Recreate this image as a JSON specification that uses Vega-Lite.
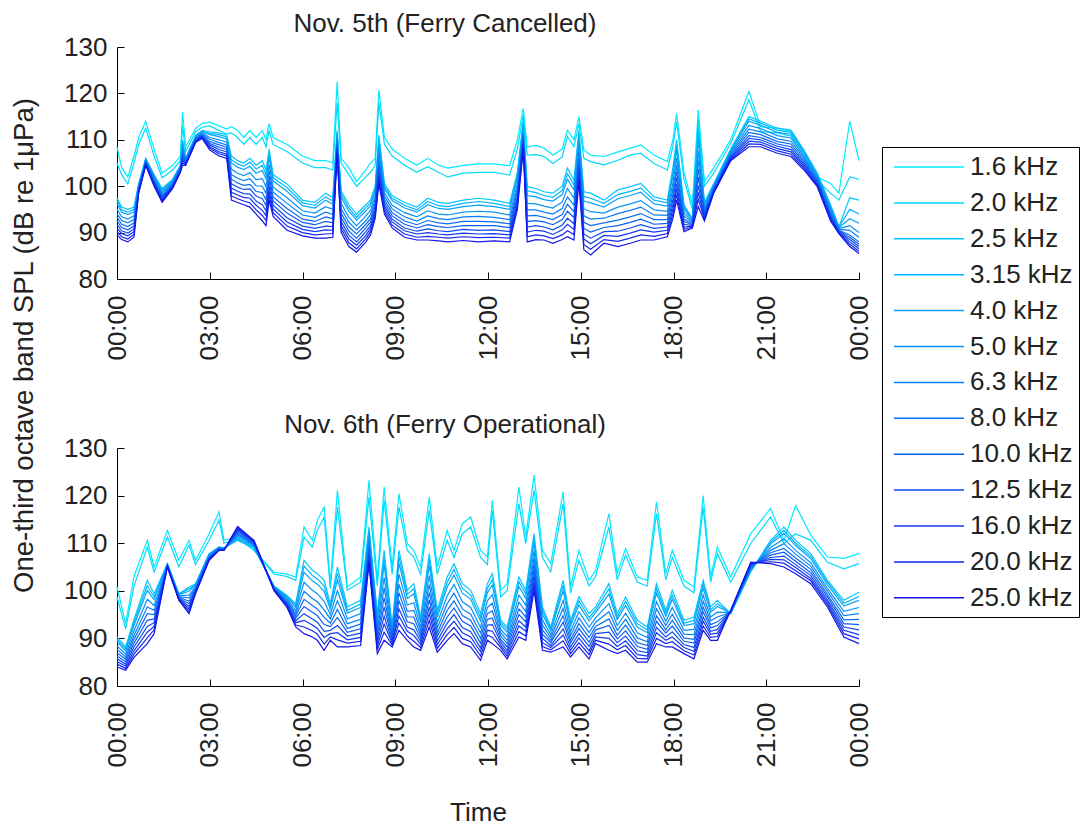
{
  "$schema": "https://vega.github.io/schema/vega-lite/v6.json",
  "background": "white",
  "padding": {"left": 9, "top": 11, "right": 2, "bottom": 2},
  "bounds": "flush",
  "spacing": 169,
  "config": {
    "font": "Liberation Sans",
    "view": {"stroke": null},
    "axis": {
      "grid": false,
      "domainColor": "#000",
      "tickColor": "#000",
      "tickSize": -7,
      "labelColor": "#222",
      "titleColor": "#222",
      "labelFont": "Liberation Sans",
      "titleFont": "Liberation Sans",
      "labelFontSize": 26,
      "titleFontSize": 26,
      "titleFontWeight": "normal",
      "labelOverlap": false,
      "labelFlush": false
    },
    "title": {"font": "Liberation Sans", "fontSize": 26, "fontWeight": "normal", "color": "#222"}
  },
  "datasets": {
    "bands": [
      {"k": "a", "band": "1.6 kHz"}, {"k": "b", "band": "2.0 kHz"}, {"k": "c", "band": "2.5 kHz"},
      {"k": "d", "band": "3.15 kHz"}, {"k": "e", "band": "4.0 kHz"}, {"k": "f", "band": "5.0 kHz"},
      {"k": "g", "band": "6.3 kHz"}, {"k": "h", "band": "8.0 kHz"}, {"k": "i", "band": "10.0 kHz"},
      {"k": "j", "band": "12.5 kHz"}, {"k": "k", "band": "16.0 kHz"}, {"k": "l", "band": "20.0 kHz"},
      {"k": "m", "band": "25.0 kHz"}
    ],
    "nov5": [
      {"t":0,"a":108.5,"b":105,"c":97.5,"d":96.9,"e":96.2,"f":95.1,"g":94.1,"h":93.3,"i":92.5,"j":91.7,"k":90.9,"l":90.2,"m":89.5},
      {"t":0.15,"a":104,"b":102.5,"c":95.5,"d":94.9,"e":94.4,"f":93.4,"g":92.6,"h":91.8,"i":91.1,"j":90.4,"k":89.8,"l":89.1,"m":88.5},
      {"t":0.35,"a":102,"b":100.5,"c":95,"d":94.4,"e":93.9,"f":92.9,"g":92.1,"h":91.3,"i":90.6,"j":89.9,"k":89.3,"l":88.6,"m":88},
      {"t":0.55,"a":106.5,"b":105,"c":95.5,"d":95,"e":94.5,"f":93.6,"g":92.8,"h":92.1,"i":91.4,"j":90.8,"k":90.2,"l":89.6,"m":89},
      {"t":0.7,"a":110.5,"b":109,"c":100.5,"d":100.3,"e":100.2,"f":99.9,"g":99.7,"h":99.4,"i":99.2,"j":99,"k":98.9,"l":98.7,"m":98.5},
      {"t":0.93,"a":114,"b":112.5,"c":106,"d":105.9,"e":105.8,"f":105.6,"g":105.4,"h":105.2,"i":105.1,"j":104.9,"k":104.8,"l":104.6,"m":104.5},
      {"t":1.2,"a":108,"b":106.5,"c":102.5,"d":102.3,"e":102.1,"f":101.8,"g":101.5,"h":101.2,"i":100.9,"j":100.7,"k":100.5,"l":100.2,"m":100},
      {"t":1.46,"a":102.8,"b":101.8,"c":99.5,"d":99.3,"e":99,"f":98.6,"g":98.2,"h":97.9,"i":97.6,"j":97.3,"k":97,"l":96.8,"m":96.5},
      {"t":1.8,"a":104.5,"b":103.5,"c":101.5,"d":101.3,"e":101.2,"f":100.9,"g":100.7,"h":100.4,"i":100.2,"j":100,"k":99.9,"l":99.7,"m":99.5},
      {"t":2.05,"a":106.5,"b":105.5,"c":104.5,"d":104.4,"e":104.3,"f":104.1,"g":103.9,"h":103.7,"i":103.6,"j":103.4,"k":103.3,"l":103.1,"m":103},
      {"t":2.12,"a":116,"b":113,"c":110,"d":109.6,"e":109.1,"f":108.4,"g":107.7,"h":107.1,"i":106.5,"j":106,"k":105.5,"l":105,"m":104.5},
      {"t":2.22,"a":108.5,"b":107.5,"c":106,"d":105.9,"e":105.8,"f":105.6,"g":105.4,"h":105.2,"i":105.1,"j":104.9,"k":104.8,"l":104.6,"m":104.5},
      {"t":2.55,"a":112.5,"b":111.8,"c":111,"d":110.9,"e":110.8,"f":110.6,"g":110.4,"h":110.2,"i":110.1,"j":109.9,"k":109.8,"l":109.6,"m":109.5},
      {"t":2.75,"a":113.5,"b":112.7,"c":112,"d":111.9,"e":111.7,"f":111.5,"g":111.3,"h":111.1,"i":110.9,"j":110.8,"k":110.6,"l":110.5,"m":110.3},
      {"t":3,"a":113.8,"b":113,"c":111.7,"d":111.4,"e":111.1,"f":110.5,"g":110.1,"h":109.6,"i":109.2,"j":108.9,"k":108.5,"l":108.2,"m":107.8},
      {"t":3.3,"a":113,"b":112,"c":111.5,"d":111.1,"e":110.7,"f":110,"g":109.4,"h":108.9,"i":108.4,"j":107.9,"k":107.4,"l":107,"m":106.5},
      {"t":3.55,"a":112.3,"b":111.3,"c":111,"d":110.6,"e":110.2,"f":109.5,"g":108.9,"h":108.4,"i":107.9,"j":107.4,"k":106.9,"l":106.5,"m":106},
      {"t":3.7,"a":112.8,"b":111.5,"c":106.5,"d":105.7,"e":105,"f":103.7,"g":102.5,"h":101.5,"i":100.5,"j":99.6,"k":98.7,"l":97.9,"m":97},
      {"t":3.9,"a":112,"b":110.5,"c":105.5,"d":104.8,"e":104.1,"f":102.8,"g":101.7,"h":100.7,"i":99.8,"j":98.9,"k":98.1,"l":97.3,"m":96.5},
      {"t":4.1,"a":110.5,"b":109,"c":105,"d":104.3,"e":103.6,"f":102.3,"g":101.2,"h":100.2,"i":99.3,"j":98.4,"k":97.6,"l":96.8,"m":96},
      {"t":4.3,"a":112,"b":110.5,"c":106,"d":105.2,"e":104.3,"f":102.9,"g":101.6,"h":100.4,"i":99.4,"j":98.3,"k":97.4,"l":96.4,"m":95.5},
      {"t":4.5,"a":110.5,"b":109,"c":104.5,"d":103.7,"e":102.8,"f":101.4,"g":100.1,"h":98.9,"i":97.9,"j":96.8,"k":95.9,"l":94.9,"m":94},
      {"t":4.7,"a":112,"b":110.5,"c":105.5,"d":104.5,"e":103.4,"f":101.6,"g":100,"h":98.6,"i":97.3,"j":96,"k":94.8,"l":93.7,"m":92.5},
      {"t":4.82,"a":110,"b":108.5,"c":103.5,"d":102.5,"e":101.6,"f":99.9,"g":98.5,"h":97.1,"i":95.9,"j":94.7,"k":93.7,"l":92.6,"m":91.5},
      {"t":4.92,"a":113.5,"b":112,"c":108,"d":107.1,"e":106.2,"f":104.7,"g":103.4,"h":102.2,"i":101.1,"j":100,"k":99,"l":98,"m":97},
      {"t":5.05,"a":110.5,"b":109,"c":102.5,"d":101.8,"e":101.1,"f":99.8,"g":98.7,"h":97.7,"i":96.8,"j":95.9,"k":95.1,"l":94.3,"m":93.5},
      {"t":5.5,"a":109,"b":107.5,"c":100.5,"d":99.7,"e":98.9,"f":97.5,"g":96.3,"h":95.2,"i":94.2,"j":93.2,"k":92.3,"l":91.4,"m":90.5},
      {"t":6,"a":106.5,"b":105,"c":97,"d":96.4,"e":95.8,"f":94.7,"g":93.8,"h":92.9,"i":92.2,"j":91.4,"k":90.7,"l":90,"m":89.3},
      {"t":6.4,"a":105.5,"b":104,"c":96.5,"d":95.9,"e":95.3,"f":94.2,"g":93.3,"h":92.4,"i":91.7,"j":90.9,"k":90.2,"l":89.5,"m":88.8},
      {"t":6.75,"a":105.5,"b":104,"c":98.5,"d":97.7,"e":97,"f":95.6,"g":94.4,"h":93.4,"i":92.4,"j":91.4,"k":90.6,"l":89.7,"m":88.8},
      {"t":6.98,"a":105,"b":103.5,"c":97.5,"d":96.8,"e":96.1,"f":95,"g":93.9,"h":93,"i":92.1,"j":91.3,"k":90.5,"l":89.8,"m":89},
      {"t":7.12,"a":122.5,"b":118,"c":112,"d":111.6,"e":111.2,"f":110.5,"g":109.9,"h":109.4,"i":108.9,"j":108.4,"k":107.9,"l":107.5,"m":107},
      {"t":7.25,"a":106,"b":105,"c":99,"d":98.3,"e":97.6,"f":96.3,"g":95.2,"h":94.2,"i":93.3,"j":92.4,"k":91.6,"l":90.8,"m":90},
      {"t":7.5,"a":104,"b":102.5,"c":96,"d":95.3,"e":94.6,"f":93.3,"g":92.2,"h":91.2,"i":90.3,"j":89.4,"k":88.6,"l":87.8,"m":87},
      {"t":7.75,"a":101,"b":100,"c":94,"d":93.3,"e":92.7,"f":91.5,"g":90.6,"h":89.7,"i":88.8,"j":88,"k":87.3,"l":86.5,"m":85.8},
      {"t":8.05,"a":103.5,"b":102,"c":96,"d":95.4,"e":94.7,"f":93.6,"g":92.6,"h":91.8,"i":91,"j":90.2,"k":89.4,"l":88.7,"m":88},
      {"t":8.2,"a":105,"b":103,"c":97,"d":96.4,"e":95.8,"f":94.8,"g":93.9,"h":93,"i":92.3,"j":91.5,"k":90.9,"l":90.2,"m":89.5},
      {"t":8.35,"a":106,"b":104.5,"c":100,"d":99.4,"e":98.9,"f":97.9,"g":97.1,"h":96.3,"i":95.6,"j":94.9,"k":94.3,"l":93.6,"m":93},
      {"t":8.47,"a":120.7,"b":118,"c":111,"d":110.2,"e":109.3,"f":107.9,"g":106.6,"h":105.4,"i":104.4,"j":103.3,"k":102.4,"l":101.4,"m":100.5},
      {"t":8.65,"a":110.5,"b":109,"c":100.5,"d":100,"e":99.5,"f":98.6,"g":97.8,"h":97.1,"i":96.4,"j":95.8,"k":95.2,"l":94.6,"m":94},
      {"t":8.9,"a":108,"b":106.5,"c":98,"d":97.4,"e":96.9,"f":95.9,"g":95.1,"h":94.3,"i":93.6,"j":92.9,"k":92.3,"l":91.6,"m":91},
      {"t":9.3,"a":106,"b":104.5,"c":96.5,"d":95.9,"e":95.3,"f":94.3,"g":93.4,"h":92.5,"i":91.8,"j":91,"k":90.4,"l":89.7,"m":89},
      {"t":9.7,"a":104.5,"b":103,"c":95.5,"d":94.9,"e":94.4,"f":93.4,"g":92.5,"h":91.7,"i":91,"j":90.3,"k":89.7,"l":89,"m":88.4},
      {"t":10.05,"a":106,"b":104.2,"c":97.4,"d":96.7,"e":96,"f":94.7,"g":93.6,"h":92.6,"i":91.7,"j":90.8,"k":90,"l":89.2,"m":88.4},
      {"t":10.4,"a":104.5,"b":103,"c":96.5,"d":95.8,"e":95.2,"f":94,"g":93,"h":92.1,"i":91.3,"j":90.4,"k":89.7,"l":89,"m":88.2},
      {"t":10.7,"a":103.9,"b":102,"c":96.3,"d":95.6,"e":95,"f":93.8,"g":92.8,"h":91.9,"i":91.1,"j":90.2,"k":89.5,"l":88.8,"m":88},
      {"t":11.2,"a":104.5,"b":102.8,"c":97,"d":96.3,"e":95.6,"f":94.4,"g":93.4,"h":92.4,"i":91.5,"j":90.7,"k":89.9,"l":89.1,"m":88.3},
      {"t":11.7,"a":104.8,"b":103,"c":97.4,"d":96.7,"e":95.9,"f":94.6,"g":93.5,"h":92.4,"i":91.5,"j":90.5,"k":89.7,"l":88.9,"m":88},
      {"t":12.2,"a":104.8,"b":103,"c":97,"d":96.3,"e":95.6,"f":94.4,"g":93.3,"h":92.3,"i":91.5,"j":90.6,"k":89.8,"l":89,"m":88.2},
      {"t":12.7,"a":104.4,"b":102.4,"c":96.3,"d":95.6,"e":95,"f":93.8,"g":92.8,"h":91.9,"i":91.1,"j":90.2,"k":89.5,"l":88.8,"m":88},
      {"t":12.95,"a":110,"b":108,"c":103,"d":102.4,"e":101.7,"f":100.6,"g":99.6,"h":98.8,"i":98,"j":97.2,"k":96.4,"l":95.7,"m":95},
      {"t":13.14,"a":116.8,"b":115.3,"c":114,"d":113.5,"e":113,"f":112.2,"g":111.5,"h":110.8,"i":110.2,"j":109.6,"k":109.1,"l":108.5,"m":108},
      {"t":13.27,"a":108.5,"b":106.7,"c":99.9,"d":99,"e":98,"f":96.3,"g":94.9,"h":93.6,"i":92.4,"j":91.2,"k":90.1,"l":89.1,"m":88},
      {"t":13.55,"a":108.8,"b":106.8,"c":99.5,"d":98.6,"e":97.7,"f":96.2,"g":94.9,"h":93.7,"i":92.6,"j":91.5,"k":90.5,"l":89.5,"m":88.5},
      {"t":13.81,"a":108.2,"b":106.4,"c":98.8,"d":98,"e":97.1,"f":95.7,"g":94.4,"h":93.3,"i":92.3,"j":91.2,"k":90.3,"l":89.3,"m":88.4},
      {"t":14.1,"a":106.7,"b":104.9,"c":98.5,"d":97.6,"e":96.8,"f":95.3,"g":94,"h":92.8,"i":91.7,"j":90.6,"k":89.6,"l":88.7,"m":87.7},
      {"t":14.4,"a":108,"b":106.3,"c":100,"d":99.1,"e":98.2,"f":96.6,"g":95.2,"h":93.9,"i":92.8,"j":91.6,"k":90.6,"l":89.5,"m":88.5},
      {"t":14.57,"a":112.1,"b":110.7,"c":103.9,"d":102.7,"e":101.5,"f":99.5,"g":97.7,"h":96.1,"i":94.6,"j":93.1,"k":91.8,"l":90.4,"m":89.1},
      {"t":14.78,"a":110,"b":108.5,"c":101.3,"d":100.3,"e":99.2,"f":97.4,"g":95.9,"h":94.5,"i":93.2,"j":91.9,"k":90.7,"l":89.6,"m":88.4},
      {"t":14.94,"a":115,"b":113.5,"c":112,"d":111.1,"e":110.2,"f":108.7,"g":107.4,"h":106.2,"i":105.1,"j":104,"k":103,"l":102,"m":101},
      {"t":15.1,"a":107.8,"b":106,"c":98.8,"d":97.8,"e":96.8,"f":95.1,"g":93.6,"h":92.2,"i":90.9,"j":89.7,"k":88.6,"l":87.4,"m":86.3},
      {"t":15.32,"a":106.7,"b":105.3,"c":98.5,"d":97.4,"e":96.4,"f":94.5,"g":92.9,"h":91.5,"i":90.1,"j":88.8,"k":87.6,"l":86.4,"m":85.2},
      {"t":15.75,"a":106.4,"b":104.6,"c":97,"d":96.3,"e":95.5,"f":94.2,"g":93.1,"h":92.1,"i":91.1,"j":90.2,"k":89.4,"l":88.5,"m":87.7},
      {"t":16.2,"a":107.4,"b":105.6,"c":99.2,"d":98.2,"e":97.3,"f":95.5,"g":94.1,"h":92.7,"i":91.5,"j":90.3,"k":89.2,"l":88.1,"m":87},
      {"t":16.6,"a":108.2,"b":106.7,"c":99.9,"d":98.9,"e":98,"f":96.2,"g":94.8,"h":93.4,"i":92.2,"j":91,"k":89.9,"l":88.8,"m":87.7},
      {"t":16.94,"a":108.9,"b":107.1,"c":100.6,"d":99.6,"e":98.7,"f":96.9,"g":95.5,"h":94.1,"i":92.9,"j":91.7,"k":90.6,"l":89.5,"m":88.4},
      {"t":17.37,"a":106.7,"b":104.9,"c":97.7,"d":97,"e":96.2,"f":94.9,"g":93.8,"h":92.8,"i":91.8,"j":90.9,"k":90.1,"l":89.2,"m":88.4},
      {"t":17.8,"a":105.3,"b":103.5,"c":97,"d":96.4,"e":95.7,"f":94.6,"g":93.7,"h":92.8,"i":92,"j":91.2,"k":90.5,"l":89.8,"m":89.1},
      {"t":17.98,"a":110,"b":108.5,"c":104,"d":103.1,"e":102.2,"f":100.7,"g":99.4,"h":98.2,"i":97.1,"j":96,"k":95,"l":94,"m":93},
      {"t":18.1,"a":115.7,"b":113.9,"c":110,"d":109,"e":107.9,"f":106.1,"g":104.5,"h":103.1,"i":101.8,"j":100.5,"k":99.3,"l":98.2,"m":97},
      {"t":18.34,"a":103,"b":101.5,"c":96,"d":95.5,"e":95.1,"f":94.3,"g":93.6,"h":92.9,"i":92.4,"j":91.8,"k":91.2,"l":90.7,"m":90.2},
      {"t":18.61,"a":96,"b":95,"c":93,"d":92.8,"e":92.7,"f":92.4,"g":92.2,"h":91.9,"i":91.7,"j":91.5,"k":91.4,"l":91.2,"m":91},
      {"t":18.8,"a":116.4,"b":114.3,"c":112.8,"d":111.4,"e":110.1,"f":107.6,"g":105.6,"h":103.7,"i":102,"j":100.2,"k":98.7,"l":97.2,"m":95.6},
      {"t":19,"a":101,"b":100,"c":96.5,"d":96.2,"e":95.9,"f":95.3,"g":94.8,"h":94.4,"i":94,"j":93.6,"k":93.2,"l":92.9,"m":92.5},
      {"t":19.3,"a":103.9,"b":102.8,"c":100.5,"d":100.3,"e":100.2,"f":99.9,"g":99.7,"h":99.4,"i":99.2,"j":99,"k":98.9,"l":98.7,"m":98.5},
      {"t":19.85,"a":110,"b":109.2,"c":108,"d":107.8,"e":107.6,"f":107.3,"g":107,"h":106.7,"i":106.4,"j":106.2,"k":106,"l":105.7,"m":105.5},
      {"t":20.44,"a":120.4,"b":118.6,"c":115,"d":114.5,"e":114,"f":113.1,"g":112.3,"h":111.6,"i":110.9,"j":110.3,"k":109.7,"l":109.1,"m":108.5},
      {"t":20.82,"a":112.8,"b":111.8,"c":114,"d":113.6,"e":113.1,"f":112.4,"g":111.7,"h":111.1,"i":110.5,"j":110,"k":109.5,"l":109,"m":108.5},
      {"t":21.36,"a":112.5,"b":111.5,"c":112.5,"d":112.1,"e":111.6,"f":110.9,"g":110.2,"h":109.6,"i":109.1,"j":108.6,"k":108.1,"l":107.6,"m":107.1},
      {"t":21.8,"a":111.8,"b":110.8,"c":112.1,"d":111.6,"e":111.2,"f":110.4,"g":109.7,"h":109.1,"i":108.5,"j":107.9,"k":107.4,"l":106.9,"m":106.4},
      {"t":22.22,"a":107.1,"b":106.5,"c":107.8,"d":107.5,"e":107.1,"f":106.5,"g":106,"h":105.5,"i":105.1,"j":104.7,"k":104.3,"l":103.9,"m":103.5},
      {"t":22.65,"a":102,"b":101.3,"c":102.8,"d":102.6,"e":102.3,"f":101.9,"g":101.6,"h":101.3,"i":101,"j":100.7,"k":100.4,"l":100.2,"m":99.9},
      {"t":23.08,"a":100.6,"b":98.5,"c":96,"d":95.7,"e":95.4,"f":95,"g":94.5,"h":94.1,"i":93.8,"j":93.4,"k":93.1,"l":92.8,"m":92.5},
      {"t":23.35,"a":98.5,"b":97,"c":91.3,"d":91.2,"e":91.1,"f":90.9,"g":90.7,"h":90.5,"i":90.4,"j":90.2,"k":90.1,"l":89.9,"m":89.8},
      {"t":23.7,"a":114,"b":102,"c":97.5,"d":95,"e":93,"f":91.5,"g":90.5,"h":89.5,"i":89,"j":88.5,"k":88,"l":87.5,"m":87},
      {"t":24,"a":105.5,"b":101.5,"c":97,"d":94,"e":92,"f":90,"g":89,"h":88,"i":87.5,"j":87,"k":86.5,"l":86,"m":85.5}
    ],
    "nov6": [
      {"t":0,"a":100.8,"b":98.7,"c":90.3,"d":89.8,"e":89.3,"f":88.4,"g":87.7,"h":87,"i":86.3,"j":85.7,"k":85.1,"l":84.6,"m":84},
      {"t":0.28,"a":93.1,"b":92,"c":88.2,"d":87.8,"e":87.4,"f":86.7,"g":86.1,"h":85.6,"i":85.1,"j":84.6,"k":84.2,"l":83.7,"m":83.3},
      {"t":0.55,"a":103,"b":101,"c":94,"d":93.4,"e":92.7,"f":91.6,"g":90.6,"h":89.8,"i":89,"j":88.2,"k":87.4,"l":86.7,"m":86},
      {"t":0.98,"a":110.6,"b":109.2,"c":102.2,"d":101.1,"e":100.1,"f":98.2,"g":96.6,"h":95.2,"i":93.8,"j":92.5,"k":91.3,"l":90.1,"m":88.9},
      {"t":1.2,"a":105,"b":103.9,"c":99.4,"d":98.7,"e":98.1,"f":96.9,"g":95.9,"h":95,"i":94.1,"j":93.3,"k":92.5,"l":91.8,"m":91},
      {"t":1.63,"a":112.7,"b":111.3,"c":105.7,"d":105.6,"e":105.6,"f":105.5,"g":105.4,"h":105.3,"i":105.3,"j":105.2,"k":105.1,"l":105.1,"m":105},
      {"t":2,"a":106.4,"b":105,"c":99.4,"d":99.3,"e":99.2,"f":99,"g":98.8,"h":98.7,"i":98.5,"j":98.4,"k":98.3,"l":98.1,"m":98},
      {"t":2.33,"a":110.6,"b":109.6,"c":100.8,"d":100.4,"e":99.9,"f":99.1,"g":98.5,"h":97.8,"i":97.3,"j":96.7,"k":96.2,"l":95.7,"m":95.2},
      {"t":2.54,"a":106.4,"b":105.5,"c":101.5,"d":101.3,"e":101.2,"f":100.9,"g":100.6,"h":100.4,"i":100.2,"j":100,"k":99.8,"l":99.6,"m":99.4},
      {"t":2.98,"a":112,"b":110.6,"c":107.8,"d":107.7,"e":107.6,"f":107.4,"g":107.2,"h":107.1,"i":106.9,"j":106.8,"k":106.7,"l":106.5,"m":106.4},
      {"t":3.3,"a":116.6,"b":114.8,"c":109.2,"d":109.1,"e":109.1,"f":109,"g":108.9,"h":108.8,"i":108.8,"j":108.7,"k":108.6,"l":108.6,"m":108.5},
      {"t":3.46,"a":110.6,"b":110,"c":109,"d":109,"e":108.9,"f":108.9,"g":108.8,"h":108.7,"i":108.7,"j":108.6,"k":108.6,"l":108.5,"m":108.5},
      {"t":3.9,"a":111.3,"b":111,"c":110.6,"d":110.8,"e":111.1,"f":111.5,"g":111.8,"h":112.1,"i":112.4,"j":112.7,"k":113,"l":113.2,"m":113.5},
      {"t":4.43,"a":108.5,"b":108.5,"c":109,"d":109.1,"e":109.3,"f":109.5,"g":109.7,"h":109.8,"i":110,"j":110.2,"k":110.3,"l":110.5,"m":110.6},
      {"t":5.08,"a":103.9,"b":103.5,"c":101,"d":100.9,"e":100.8,"f":100.7,"g":100.6,"h":100.5,"i":100.4,"j":100.3,"k":100.2,"l":100.1,"m":100},
      {"t":5.5,"a":103.5,"b":103,"c":99,"d":98.8,"e":98.6,"f":98.3,"g":98,"h":97.7,"i":97.4,"j":97.2,"k":97,"l":96.7,"m":96.5},
      {"t":5.78,"a":102.9,"b":102.2,"c":97.3,"d":96.9,"e":96.5,"f":95.8,"g":95.2,"h":94.7,"i":94.2,"j":93.7,"k":93.3,"l":92.8,"m":92.4},
      {"t":6.05,"a":113.4,"b":111.3,"c":106.4,"d":105.2,"e":103.9,"f":101.8,"g":99.9,"h":98.2,"i":96.7,"j":95.2,"k":93.8,"l":92.4,"m":91},
      {"t":6.32,"a":110.6,"b":109.2,"c":104.3,"d":103.2,"e":102.1,"f":100.1,"g":98.4,"h":96.9,"i":95.5,"j":94.1,"k":92.8,"l":91.6,"m":90.3},
      {"t":6.48,"a":114.8,"b":112.7,"c":103.6,"d":102.5,"e":101.4,"f":99.4,"g":97.7,"h":96.2,"i":94.8,"j":93.4,"k":92.1,"l":90.9,"m":89.6},
      {"t":6.7,"a":117.6,"b":115.5,"c":102.2,"d":101,"e":99.9,"f":97.8,"g":96,"h":94.4,"i":92.9,"j":91.5,"k":90.2,"l":88.8,"m":87.5},
      {"t":6.9,"a":101.5,"b":100.5,"c":97.3,"d":96.7,"e":96.1,"f":95,"g":94.1,"h":93.2,"i":92.5,"j":91.7,"k":91,"l":90.3,"m":89.6},
      {"t":7.13,"a":121.1,"b":117.6,"c":105,"d":103.7,"e":102.3,"f":100,"g":97.9,"h":96.1,"i":94.4,"j":92.7,"k":91.2,"l":89.7,"m":88.2},
      {"t":7.45,"a":100.8,"b":100.1,"c":96.6,"d":95.9,"e":95.3,"f":94.1,"g":93.1,"h":92.1,"i":91.3,"j":90.5,"k":89.7,"l":89,"m":88.2},
      {"t":7.88,"a":102.9,"b":101.8,"c":98,"d":97.2,"e":96.5,"f":95.2,"g":94,"h":93,"i":92,"j":91.1,"k":90.2,"l":89.4,"m":88.5},
      {"t":8.15,"a":123.2,"b":119.7,"c":113.4,"d":112.8,"e":112.2,"f":111.1,"g":110.2,"h":109.3,"i":108.6,"j":107.8,"k":107.1,"l":106.4,"m":105.7},
      {"t":8.42,"a":102.2,"b":101,"c":95.2,"d":94.5,"e":93.9,"f":92.7,"g":91.7,"h":90.7,"i":89.9,"j":89.1,"k":88.3,"l":87.6,"m":86.8},
      {"t":8.64,"a":121.8,"b":119,"c":108.5,"d":107,"e":105.5,"f":102.8,"g":100.6,"h":98.5,"i":96.6,"j":94.7,"k":93,"l":91.3,"m":89.6},
      {"t":8.9,"a":105,"b":103.5,"c":92.4,"d":92.1,"e":91.7,"f":91.1,"g":90.6,"h":90.2,"i":89.8,"j":89.3,"k":89,"l":88.6,"m":88.2},
      {"t":9.12,"a":120.4,"b":117.6,"c":108.5,"d":107.2,"e":105.8,"f":103.5,"g":101.4,"h":99.6,"i":97.9,"j":96.2,"k":94.7,"l":93.2,"m":91.7},
      {"t":9.39,"a":109.9,"b":108.5,"c":100.1,"d":99.3,"e":98.4,"f":97,"g":95.7,"h":94.5,"i":93.5,"j":92.4,"k":91.5,"l":90.5,"m":89.6},
      {"t":9.6,"a":108.5,"b":107.1,"c":101.5,"d":100.4,"e":99.4,"f":97.5,"g":95.9,"h":94.5,"i":93.1,"j":91.8,"k":90.6,"l":89.4,"m":88.2},
      {"t":9.82,"a":105,"b":103.5,"c":94.5,"d":93.9,"e":93.4,"f":92.4,"g":91.6,"h":90.8,"i":90.1,"j":89.4,"k":88.8,"l":88.1,"m":87.5},
      {"t":10.1,"a":119.7,"b":116.9,"c":107.8,"d":106.6,"e":105.3,"f":103.2,"g":101.3,"h":99.6,"i":98.1,"j":96.6,"k":95.2,"l":93.8,"m":92.4},
      {"t":10.36,"a":105,"b":103.5,"c":95.9,"d":95.2,"e":94.5,"f":93.3,"g":92.2,"h":91.2,"i":90.4,"j":89.5,"k":88.7,"l":87.9,"m":87.1},
      {"t":10.68,"a":112.7,"b":110.6,"c":102.9,"d":101.8,"e":100.8,"f":98.9,"g":97.3,"h":95.9,"i":94.5,"j":93.2,"k":92,"l":90.8,"m":89.6},
      {"t":10.9,"a":108.5,"b":107,"c":105.7,"d":104.5,"e":103.3,"f":101.3,"g":99.5,"h":97.9,"i":96.4,"j":95,"k":93.6,"l":92.3,"m":91},
      {"t":11.17,"a":114.1,"b":112,"c":101.5,"d":100.5,"e":99.5,"f":97.7,"g":96.2,"h":94.8,"i":93.6,"j":92.3,"k":91.2,"l":90,"m":88.9},
      {"t":11.44,"a":115.5,"b":113.4,"c":100.1,"d":99.1,"e":98.2,"f":96.5,"g":95.1,"h":93.8,"i":92.6,"j":91.4,"k":90.3,"l":89.3,"m":88.2},
      {"t":11.76,"a":108.5,"b":107,"c":95.2,"d":94.4,"e":93.6,"f":92.3,"g":91.1,"h":90,"i":89,"j":88,"k":87.2,"l":86.3,"m":85.4},
      {"t":11.98,"a":107.1,"b":105.5,"c":101.5,"d":100.5,"e":99.6,"f":97.9,"g":96.5,"h":95.2,"i":94,"j":92.8,"k":91.7,"l":90.7,"m":89.6},
      {"t":12.14,"a":119,"b":116.9,"c":103.6,"d":102.4,"e":101.2,"f":99.2,"g":97.4,"h":95.8,"i":94.3,"j":92.9,"k":91.5,"l":90.2,"m":88.9},
      {"t":12.41,"a":100.1,"b":98.7,"c":93.8,"d":93.3,"e":92.8,"f":91.9,"g":91.2,"h":90.5,"i":89.8,"j":89.2,"k":88.6,"l":88.1,"m":87.5},
      {"t":12.62,"a":101.5,"b":100,"c":92.4,"d":91.9,"e":91.3,"f":90.4,"g":89.6,"h":88.9,"i":88.2,"j":87.5,"k":86.9,"l":86.3,"m":85.7},
      {"t":13,"a":121.8,"b":118.3,"c":102.9,"d":101.9,"e":100.9,"f":99.1,"g":97.6,"h":96.2,"i":95,"j":93.7,"k":92.6,"l":91.4,"m":90.3},
      {"t":13.22,"a":111.3,"b":109.9,"c":100.1,"d":99.3,"e":98.4,"f":97,"g":95.7,"h":94.5,"i":93.5,"j":92.4,"k":91.5,"l":90.5,"m":89.6},
      {"t":13.49,"a":124.3,"b":121.1,"c":112,"d":111,"e":110.1,"f":108.4,"g":107,"h":105.7,"i":104.5,"j":103.3,"k":102.2,"l":101.2,"m":100.1},
      {"t":13.76,"a":108.5,"b":107,"c":96.6,"d":95.9,"e":95.1,"f":93.9,"g":92.8,"h":91.8,"i":90.9,"j":90,"k":89.1,"l":88.3,"m":87.5},
      {"t":14.03,"a":105.7,"b":104,"c":92.4,"d":92,"e":91.6,"f":90.8,"g":90.2,"h":89.6,"i":89.1,"j":88.5,"k":88.1,"l":87.6,"m":87.1},
      {"t":14.43,"a":120.8,"b":118.3,"c":102.2,"d":101.1,"e":100,"f":98,"g":96.3,"h":94.8,"i":93.4,"j":92,"k":90.7,"l":89.5,"m":88.2},
      {"t":14.67,"a":100.8,"b":99.5,"c":93.8,"d":93.2,"e":92.6,"f":91.5,"g":90.6,"h":89.7,"i":89,"j":88.2,"k":87.5,"l":86.8,"m":86.1},
      {"t":14.94,"a":108.5,"b":106.4,"c":98.7,"d":97.9,"e":97,"f":95.6,"g":94.3,"h":93.1,"i":92.1,"j":91,"k":90.1,"l":89.1,"m":88.2},
      {"t":15.27,"a":102.2,"b":101,"c":95.2,"d":94.4,"e":93.7,"f":92.4,"g":91.2,"h":90.2,"i":89.2,"j":88.3,"k":87.4,"l":86.6,"m":85.7},
      {"t":15.48,"a":104.3,"b":103,"c":96.6,"d":96,"e":95.4,"f":94.3,"g":93.4,"h":92.5,"i":91.8,"j":91,"k":90.3,"l":89.6,"m":88.9},
      {"t":15.91,"a":116.2,"b":113.4,"c":101.5,"d":100.4,"e":99.3,"f":97.3,"g":95.6,"h":94.1,"i":92.7,"j":91.3,"k":90,"l":88.8,"m":87.5},
      {"t":16.18,"a":103.6,"b":102.3,"c":95.2,"d":94.5,"e":93.9,"f":92.7,"g":91.7,"h":90.7,"i":89.9,"j":89.1,"k":88.3,"l":87.6,"m":86.8},
      {"t":16.45,"a":108.9,"b":107.5,"c":98.7,"d":97.8,"e":96.9,"f":95.3,"g":94,"h":92.8,"i":91.6,"j":90.5,"k":89.5,"l":88.5,"m":87.5},
      {"t":16.83,"a":102.9,"b":101.8,"c":93.8,"d":93.1,"e":92.4,"f":91.2,"g":90.1,"h":89.1,"i":88.3,"j":87.4,"k":86.6,"l":85.8,"m":85},
      {"t":17.15,"a":102.2,"b":101,"c":92.4,"d":91.8,"e":91.2,"f":90.2,"g":89.3,"h":88.5,"i":87.7,"j":87,"k":86.3,"l":85.7,"m":85},
      {"t":17.45,"a":118.7,"b":116.2,"c":101.5,"d":100.5,"e":99.5,"f":97.7,"g":96.2,"h":94.8,"i":93.6,"j":92.3,"k":91.2,"l":90,"m":88.9},
      {"t":17.75,"a":103.6,"b":102.3,"c":95.9,"d":95.3,"e":94.7,"f":93.6,"g":92.7,"h":91.8,"i":91.1,"j":90.3,"k":89.6,"l":88.9,"m":88.2},
      {"t":17.96,"a":108.5,"b":107,"c":100.1,"d":99.1,"e":98.2,"f":96.5,"g":95.1,"h":93.8,"i":92.6,"j":91.4,"k":90.3,"l":89.3,"m":88.2},
      {"t":18.34,"a":102.2,"b":101,"c":93.8,"d":93.2,"e":92.7,"f":91.7,"g":90.9,"h":90.1,"i":89.4,"j":88.7,"k":88.1,"l":87.4,"m":86.8},
      {"t":18.66,"a":100.8,"b":99.6,"c":94.5,"d":93.8,"e":93.1,"f":91.9,"g":90.8,"h":89.8,"i":89,"j":88.1,"k":87.3,"l":86.5,"m":85.7},
      {"t":18.96,"a":120,"b":117.6,"c":102.2,"d":101.4,"e":100.5,"f":99.1,"g":97.8,"h":96.6,"i":95.6,"j":94.5,"k":93.6,"l":92.6,"m":91.7},
      {"t":19.2,"a":102.9,"b":101.8,"c":96.6,"d":96,"e":95.5,"f":94.5,"g":93.7,"h":92.9,"i":92.2,"j":91.5,"k":90.9,"l":90.2,"m":89.6},
      {"t":19.42,"a":109.2,"b":107.8,"c":98,"d":97.3,"e":96.7,"f":95.5,"g":94.5,"h":93.5,"i":92.7,"j":91.9,"k":91.1,"l":90.4,"m":89.6},
      {"t":19.85,"a":102.9,"b":101.8,"c":95.2,"d":95.3,"e":95.3,"f":95.4,"g":95.5,"h":95.6,"i":95.6,"j":95.7,"k":95.8,"l":95.8,"m":95.9},
      {"t":20.5,"a":112,"b":110,"c":104,"d":104.2,"e":104.3,"f":104.6,"g":104.8,"h":105.1,"i":105.3,"j":105.5,"k":105.6,"l":105.8,"m":106},
      {"t":21.14,"a":117.3,"b":115.5,"c":110.6,"d":110.2,"e":109.8,"f":109.1,"g":108.5,"h":108,"i":107.5,"j":107,"k":106.6,"l":106.1,"m":105.7},
      {"t":21.57,"a":110.6,"b":110,"c":113.4,"d":112.7,"e":112.1,"f":110.9,"g":109.9,"h":108.9,"i":108.1,"j":107.3,"k":106.5,"l":105.8,"m":105},
      {"t":21.95,"a":117.9,"b":112,"c":110.6,"d":110,"e":109.5,"f":108.5,"g":107.7,"h":106.9,"i":106.2,"j":105.5,"k":104.9,"l":104.2,"m":103.6},
      {"t":22.44,"a":111.7,"b":110.6,"c":107.8,"d":107.3,"e":106.8,"f":105.9,"g":105.2,"h":104.5,"i":103.8,"j":103.2,"k":102.6,"l":102.1,"m":101.5},
      {"t":22.98,"a":107.1,"b":106,"c":102.2,"d":101.8,"e":101.3,"f":100.5,"g":99.9,"h":99.2,"i":98.7,"j":98.1,"k":97.6,"l":97.1,"m":96.6},
      {"t":23.51,"a":106.8,"b":104.6,"c":98,"d":97.4,"e":96.8,"f":95.7,"g":94.8,"h":93.9,"i":93.1,"j":92.4,"k":91.7,"l":91,"m":90.3},
      {"t":24,"a":107.8,"b":105.7,"c":99.7,"d":98.8,"e":98,"f":96.5,"g":95.2,"h":94,"i":92.9,"j":91.8,"k":90.8,"l":89.9,"m":88.9}
    ]
  },
  "vconcat": [
    {
      "width": 742,
      "height": 232,
      "title": {"text": "Nov. 5th (Ferry Cancelled)", "anchor": "middle", "frame": "group", "dx": -43, "offset": -24, "baseline": "alphabetic"},
      "data": {"name": "nov5"},
      "transform": [
        {"fold": ["a", "b", "c", "d", "e", "f", "g", "h", "i", "j", "k", "l", "m"], "as": ["k", "spl"]},
        {"lookup": "k", "from": {"data": {"name": "bands"}, "key": "k", "fields": ["band"]}}
      ],
      "mark": {"type": "line", "strokeWidth": 1.2},
      "encoding": {
        "x": {
          "field": "t", "type": "quantitative",
          "scale": {"domain": [0, 24], "nice": false, "zero": false},
          "axis": {
            "values": [0, 3, 6, 9, 12, 15, 18, 21, 24],
            "title": null,
            "labelAngle": 270, "labelAlign": "right", "labelBaseline": "middle",
            "labelPadding": 23,
            "labelExpr": "(datum.value % 24 < 10 ? '0' : '') + (datum.value % 24) + ':00'"
          }
        },
        "y": {
          "field": "spl", "type": "quantitative",
          "scale": {"domain": [80, 130], "nice": false, "zero": false},
          "axis": {
            "values": [80, 90, 100, 110, 120, 130],
            "labelPadding": 17,
            "title": "One-third octave band SPL (dB re 1μPa)",
            "titleFontSize": 27.5,
            "titleAngle": 270, "titleAlign": "center", "titleBaseline": "middle",
            "titleX": -93, "titleY": 298
          }
        },
        "color": {
          "field": "band", "type": "nominal",
          "scale": {
            "domain": ["1.6 kHz", "2.0 kHz", "2.5 kHz", "3.15 kHz", "4.0 kHz", "5.0 kHz", "6.3 kHz", "8.0 kHz", "10.0 kHz", "12.5 kHz", "16.0 kHz", "20.0 kHz", "25.0 kHz"],
            "range": ["#00EBFF", "#02D9FD", "#03C7FC", "#05B5FA", "#07A3F8", "#0892F7", "#0A80F5", "#0C6EF3", "#0D5CF2", "#0F4AF0", "#1138EE", "#1226ED", "#1414EB"]
          },
          "legend": {
            "orient": "none", "legendX": 765, "legendY": 100,
            "title": null,
            "symbolType": "M-0.62,0H4.77", "symbolSize": 676, "symbolStrokeWidth": 1.5,
            "labelFont": "Liberation Sans", "labelFontSize": 26, "labelColor": "#222",
            "labelOffset": 54, "labelLimit": 300,
            "rowPadding": 8.9, "padding": 6,
            "strokeColor": "#000", "fillColor": "#fff"
          }
        }
      }
    },
    {
      "width": 742,
      "height": 238,
      "title": {"text": "Nov. 6th (Ferry Operational)", "anchor": "middle", "frame": "group", "dx": -43, "offset": -24, "baseline": "alphabetic"},
      "data": {"name": "nov6"},
      "transform": [
        {"fold": ["a", "b", "c", "d", "e", "f", "g", "h", "i", "j", "k", "l", "m"], "as": ["k", "spl"]},
        {"lookup": "k", "from": {"data": {"name": "bands"}, "key": "k", "fields": ["band"]}}
      ],
      "mark": {"type": "line", "strokeWidth": 1.2},
      "encoding": {
        "x": {
          "field": "t", "type": "quantitative",
          "scale": {"domain": [0, 24], "nice": false, "zero": false},
          "axis": {
            "values": [0, 3, 6, 9, 12, 15, 18, 21, 24],
            "title": "Time",
            "titleX": 361, "titleY": 134, "titleAlign": "center", "titleBaseline": "alphabetic", "titleAngle": 0,
            "labelAngle": 270, "labelAlign": "right", "labelBaseline": "middle",
            "labelPadding": 23,
            "labelExpr": "(datum.value % 24 < 10 ? '0' : '') + (datum.value % 24) + ':00'"
          }
        },
        "y": {
          "field": "spl", "type": "quantitative",
          "scale": {"domain": [80, 130], "nice": false, "zero": false},
          "axis": {"values": [80, 90, 100, 110, 120, 130], "labelPadding": 17, "title": null}
        },
        "color": {
          "field": "band", "type": "nominal",
          "scale": {
            "domain": ["1.6 kHz", "2.0 kHz", "2.5 kHz", "3.15 kHz", "4.0 kHz", "5.0 kHz", "6.3 kHz", "8.0 kHz", "10.0 kHz", "12.5 kHz", "16.0 kHz", "20.0 kHz", "25.0 kHz"],
            "range": ["#00EBFF", "#02D9FD", "#03C7FC", "#05B5FA", "#07A3F8", "#0892F7", "#0A80F5", "#0C6EF3", "#0D5CF2", "#0F4AF0", "#1138EE", "#1226ED", "#1414EB"]
          },
          "legend": {
            "orient": "none", "legendX": 765, "legendY": 100,
            "title": null,
            "symbolType": "M-0.62,0H4.77", "symbolSize": 676, "symbolStrokeWidth": 1.5,
            "labelFont": "Liberation Sans", "labelFontSize": 26, "labelColor": "#222",
            "labelOffset": 54, "labelLimit": 300,
            "rowPadding": 8.9, "padding": 6,
            "strokeColor": "#000", "fillColor": "#fff"
          }
        }
      }
    }
  ],
  "resolve": {"scale": {"color": "shared"}}
}
